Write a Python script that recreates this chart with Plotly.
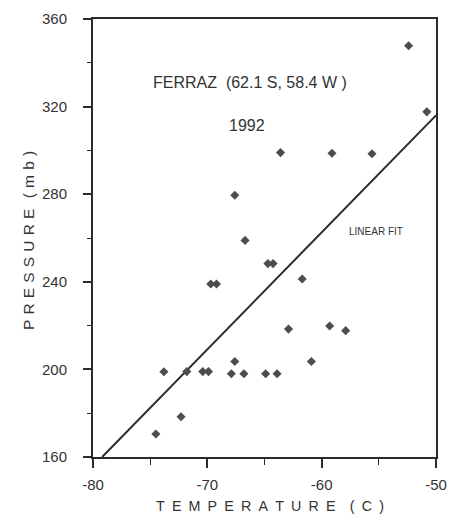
import plotly.graph_objects as go

# Data
temperature = [-52.4, -50.8, -63.6, -59.1, -55.6, -67.6, -66.7, -64.7, -64.25,
               -69.7, -69.2, -61.7, -62.9, -59.3, -57.9, -73.8, -71.8, -70.4,
               -69.9, -67.9, -67.6, -66.8, -64.9, -63.9, -60.9, -72.3, -74.5]
pressure = [347.8, 317.6, 299.0, 298.7, 298.5, 279.5, 258.9, 248.3, 248.3,
            239.0, 239.0, 241.3, 218.4, 219.8, 217.7, 198.9, 199.0, 199.0,
            199.0, 198.0, 203.6, 198.0, 198.0, 198.0, 203.6, 178.4, 170.5]

fit_x = [-79.2, -50.0]
fit_y = [160.0, 316.0]

x_ticks = [-80, -70, -60, -50]
y_ticks = [160, 200, 240, 280, 320, 360]

ink = "#333333"
frame = "#2b2b2b"
font = "Liberation Sans, Arial, sans-serif"

def spaced(s, sep):
    return sep.join(s)

fig = go.Figure()
fig.add_trace(go.Scatter(x=fit_x, y=fit_y, mode="lines",
                         line=dict(color=frame, width=2), showlegend=False))
fig.add_trace(go.Scatter(x=temperature, y=pressure, mode="markers",
                         marker=dict(symbol="diamond", size=7, color="#4d4d4d"),
                         showlegend=False))

x_title = spaced("TEMPERATURE", "\u2002") + "\u2002\u2002" + spaced("(C)", "\u2002")
y_title = spaced("PRESSURE", "\u2004") + "\u2004\u2004" + spaced("(mb)", "\u2004")

fig.update_layout(
    width=457, height=520,
    margin=dict(l=93, r=10, t=19, b=63),
    paper_bgcolor="white", plot_bgcolor="white",
    font=dict(family=font, color=ink, size=12),
    xaxis=dict(range=[-80, -50], tickvals=x_ticks, ticktext=[str(v) for v in x_ticks],
               showgrid=False, zeroline=False, showline=True, linecolor=frame,
               linewidth=2, mirror=True, ticks="outside", ticklen=9, tickwidth=1.5,
               tickcolor=frame, minor=dict(dtick=5, ticks="outside", ticklen=6,
                                           tickcolor=frame, tickwidth=1.2),
               tickfont=dict(size=15, color=ink), ticklabelstandoff=4,
               ticklabeloverflow="allow"),
    yaxis=dict(range=[160, 360], tickvals=y_ticks, ticktext=[str(v) for v in y_ticks],
               showgrid=False, zeroline=False, showline=True, linecolor=frame,
               linewidth=2, mirror=True, ticks="outside", ticklen=8, tickwidth=1.5,
               tickcolor=frame, minor=dict(dtick=20, ticks="outside", ticklen=4,
                                           tickcolor=frame, tickwidth=1.2),
               tickfont=dict(size=15, color=ink), ticklabelstandoff=13),
    annotations=[
        dict(text="FERRAZ\u00a0\u00a0(62.1 S, 58.4 W )", x=-74.9, y=331.2, xref="x", yref="y",
             showarrow=False, font=dict(size=16, color=ink), xanchor="left", yanchor="middle"),
        dict(text="1992", x=-66.5, y=311.6, xref="x", yref="y",
             showarrow=False, font=dict(size=16, color=ink), xanchor="center", yanchor="middle"),
        dict(text="LINEAR FIT", x=-57.8, y=263, xref="x", yref="y",
             showarrow=False, font=dict(size=10, color=ink), xanchor="left", yanchor="middle"),
        dict(text=x_title, x=0.517, y=-0.113, xref="paper", yref="paper",
             showarrow=False, font=dict(size=14.3, color=ink), xanchor="center", yanchor="middle"),
        dict(text=y_title, x=-0.19, y=0.495, xref="paper", yref="paper",
             textangle=-90, showarrow=False, font=dict(size=15.5, color=ink),
             xanchor="center", yanchor="middle"),
    ],
)

fig.write_html(
    "out.html",
    config={"displayModeBar": False},
    post_script="document.body.style.margin='0';document.body.style.overflow='hidden';",
)
